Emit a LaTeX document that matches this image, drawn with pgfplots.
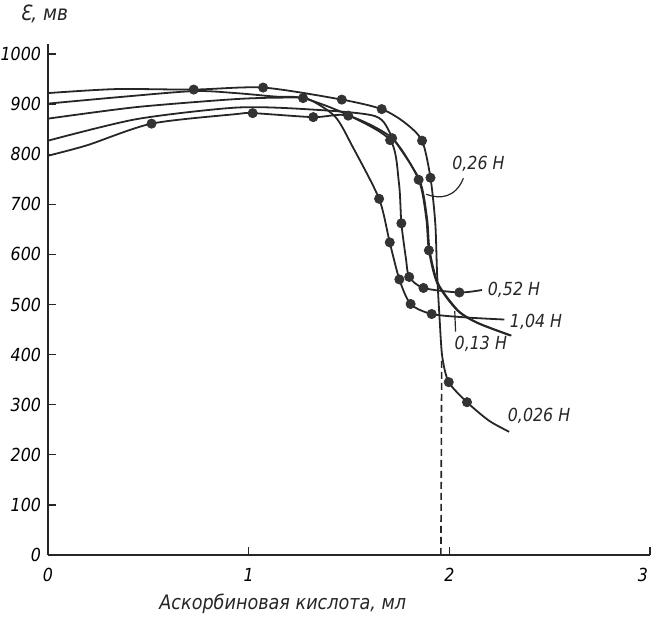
\documentclass[border=0pt]{standalone}
\usepackage{fontspec}
\setmainfont{DejaVu Sans}[FakeStretch=0.88]
\usepackage{pgfplots}
\pgfplotsset{compat=1.18}

\begin{document}
\begin{tikzpicture}
\begin{axis}[
    scale only axis, width=301pt, height=255.5pt,
    xmin=0, xmax=3, ymin=0, ymax=1020,
    axis x line*=bottom, axis y line*=left,
    xtick={0,1,2,3}, xticklabels={0,1,2,\llap{3\hspace{1pt}}},
    ytick={0,100,...,1000},
    tick align=inside, major tick length=4pt,
    ticklabel style={font=\fontsize{9}{10}\selectfont\itshape},
    xticklabel style={yshift=-3pt},
    /pgf/number format/assume math mode=true,
    /pgf/number format/1000 sep={},
    clip=false,
    axis line style={line width=0.9pt, black!85},
    every tick/.style={line width=0.7pt, black!85},
    curve/.style={line width=0.9pt, black!85, smooth, tension=0.45, no marks},
    dots/.style={only marks, mark=*, mark size=2.3pt, black!80},
  ]
  % 0,026 N
  \addplot[curve] coordinates {
    (0,922) (0.34,930) (0.726,929) (1.072,933) (1.464,909) (1.663,890)
    (1.778,863) (1.864,827) (1.906,753) (1.930,662) (1.939,562)
    (1.953,461) (1.965,395) (1.997,345) (2.088,305) (2.198,268) (2.298,246)};
  \addplot[dots] coordinates {
    (0.726,929) (1.072,933) (1.464,909) (1.663,890) (1.864,827) (1.906,753)
    (1.997,345) (2.088,305)};

  % 0,52 N
  \addplot[curve] coordinates {
    (0,901) (0.355,914) (0.726,926) (0.935,922) (1.133,915) (1.271,912)
    (1.48,881) (1.705,828) (1.749,742) (1.761,662) (1.784,591) (1.80,555)
    (1.871,533) (2.05,524) (2.163,529)};
  \addplot[dots] coordinates {
    (1.271,912) (1.705,828) (1.761,662) (1.80,555) (1.871,533) (2.05,524)};

  % 1,04 N
  \addplot[curve] coordinates {
    (0,871) (0.44,894) (0.935,910) (1.182,913) (1.297,910) (1.431,875)
    (1.518,815) (1.65,711) (1.703,624) (1.751,550) (1.807,501) (1.912,481)
    (2.09,474) (2.274,470)};
  \addplot[dots] coordinates {
    (1.65,711) (1.703,624) (1.751,550) (1.807,501) (1.912,481)};

  % 0,13 N
  \addplot[curve] coordinates {
    (0,827) (0.441,870) (0.936,893) (1.28,890) (1.63,876) (1.719,832)
    (1.851,749) (1.889,672) (1.902,608) (1.944,542) (2.044,488)
    (2.144,463) (2.309,438)};

  % 0,26 N
  \addplot[curve] coordinates {
    (0,797) (0.196,818) (0.516,861) (0.936,880) (1.02,882) (1.322,874)
    (1.496,877) (1.715,832) (1.847,749) (1.885,672) (1.898,608)
    (1.94,542) (2.04,488) (2.14,463) (2.305,438)};
  \addplot[dots] coordinates {
    (0.516,861) (1.02,882) (1.322,874) (1.496,877) (1.715,832) (1.847,749)
    (1.898,608)};

  % end point
  \addplot[line width=0.8pt, black!85, dash pattern=on 3.5pt off 2pt]
    coordinates {(1.958,0) (1.962,392)};

  % curve labels
  \begin{scope}[every node/.style={font=\fontsize{9}{10}\selectfont\itshape, black!85, inner sep=1pt}]
    \node at (axis cs:2.145,781) {0,26 Н};
    \node[anchor=west] at (axis cs:2.18,530) {0,52 Н};
    \node[anchor=west] at (axis cs:2.29,466) {1,04 Н};
    \node[anchor=west] at (axis cs:2.015,421) {0,13 Н};
    \node[anchor=west] at (axis cs:2.28,278) {0,026 Н};
    \node[font=\fontsize{10.5}{12}\selectfont\itshape] at (axis cs:-0.02,1080) {Ɛ, мв};
    \node[font=\fontsize{10}{12}\selectfont\itshape] at (axis cs:1.17,-97)
      {Аскорбиновая кислота, мл};
  \end{scope}
  \draw[line width=0.6pt, black!85] (axis cs:2.07,752)
    .. controls (axis cs:2.03,712) and (axis cs:1.95,710) .. (axis cs:1.885,720);
  \draw[line width=0.6pt, black!85] (axis cs:2.027,487) -- (axis cs:2.031,446);
\end{axis}
\pgfresetboundingbox
\path[use as bounding box] (current axis.south west) ++(-24pt,-32pt) rectangle ++(326pt,309.5pt);
\end{tikzpicture}
\end{document}
